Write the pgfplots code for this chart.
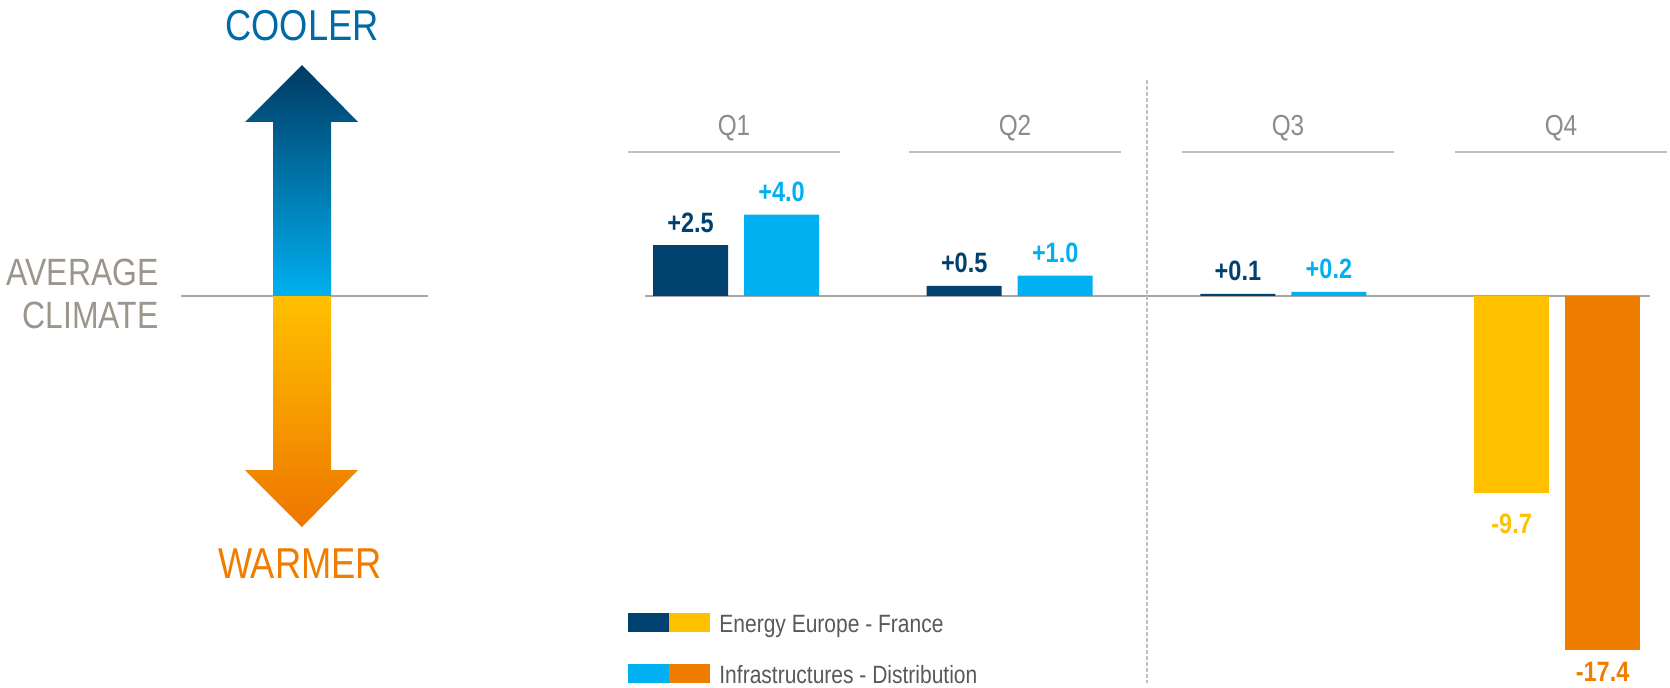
\documentclass[border=0pt]{standalone}
\usepackage{fontspec}
\setmainfont{Liberation Sans}[FakeStretch=0.84]
\usepackage{pgfplots}
\pgfplotsset{compat=1.18}

\definecolor{cNavy}{HTML}{004170}
\definecolor{cSky}{HTML}{00B0F0}
\definecolor{cGold}{HTML}{FFC000}
\definecolor{cTang}{HTML}{F07D00}
\definecolor{cQgrey}{HTML}{8C8C8C}
\definecolor{cRule}{HTML}{BFBFBF}
\definecolor{cZero}{HTML}{A6A6A6}
\definecolor{cWarmGrey}{HTML}{9B958C}
\definecolor{cCool}{HTML}{0069A6}
\definecolor{cLeg}{HTML}{595959}
\definecolor{cArrTop}{HTML}{003A63}
\definecolor{cArrBot}{HTML}{EE7600}

\newcommand\fs[1]{\fontsize{#1}{#1}\selectfont}

\begin{document}
\begin{tikzpicture}
\useasboundingbox (0,0) rectangle (835pt,343.5pt);

% bars: 1 unit of x = one quarter, 1 unit of y = one index point
\begin{axis}[
  at={(0,0)}, anchor=south west, scale only axis,
  width=835pt, height=343.5pt,
  xmin=-2.6891, xmax=3.4125, ymin=-19.214, ymax=14.545,
  hide axis, clip=false,
  ybar, bar width=37.5pt,
  nodes near coords, point meta=explicit symbolic,
  every node near coord/.append style={font=\bfseries\fs{14}, anchor=base, inner sep=0pt},
]
\draw[cZero, line width=0.6pt] (axis cs:-0.3325,0) -- (axis cs:3.339,0);

% Energy Europe - France
\addplot[fill=cNavy, draw=none, bar shift=-22.75pt,
  every node near coord/.append style={text=cNavy, yshift=6.5pt}]
  coordinates {(0,2.5) [+2.5] (1,0.5) [+0.5] (2,0.1) [+0.1]};
\addplot[fill=cGold, draw=none, bar shift=-22.75pt,
  every node near coord/.append style={text=cGold, yshift=-20pt}]
  coordinates {(3,-9.7) [-9.7]};

% Infrastructures - Distribution
\addplot[fill=cSky, draw=none, bar shift=22.75pt,
  every node near coord/.append style={text=cSky, yshift=6.5pt}]
  coordinates {(0,4.0) [+4.0] (1,1.0) [+1.0] (2,0.2) [+0.2]};
\addplot[fill=cTang, draw=none, bar shift=22.75pt,
  every node near coord/.append style={text=cTang, yshift=-15.5pt}]
  coordinates {(3,-17.4) [-17.4]};
\end{axis}

% decoration, in pixel units of the 1670x687 layout (y downward)
\begin{scope}[x=0.5pt, y=-0.5pt, shift={(0pt,343.5pt)}, every node/.style={inner sep=0pt}]
  % quarter headers
  \foreach \c/\q in {734/Q1,1015/Q2,1288/Q3,1561/Q4} {
    \node[anchor=base, text=cQgrey, font=\fs{14.5}] at (\c,135) {\q};
    \draw[cRule, line width=0.75pt] (\c-106,152) -- (\c+106,152);
  }
  % separator between H1 and H2
  \draw[cRule, line width=1pt, dash pattern=on 2pt off 1pt] (1147,80) -- (1147,683);

  % climate arrow
  \draw[cZero, line width=0.6pt] (181,296) -- (428,296);
  \shade[top color=cArrTop, bottom color=cSky]
    (302,65) -- (358,122) -- (331,122) -- (331,296) -- (273,296) -- (273,122) -- (245,122) -- cycle;
  \shade[top color=cGold, bottom color=cArrBot]
    (273,296) -- (331,296) -- (331,470) -- (358,470) -- (302,527) -- (245,470) -- (273,470) -- cycle;
  \node[anchor=base, text=cCool, font=\fs{21.6}] at (302,41) {COOLER};
  \node[anchor=base, text=cTang, font=\fs{21.6}] at (300,578) {WARMER};
  \node[anchor=base east, text=cWarmGrey, font=\fs{19}] at (159,285) {AVERAGE};
  \node[anchor=base east, text=cWarmGrey, font=\fs{19}] at (159,328) {CLIMATE};

  % legend
  \fill[cNavy] (628,613) rectangle (669,632);
  \fill[cGold] (669,613) rectangle (710,632);
  \fill[cSky]  (628,664) rectangle (669,683);
  \fill[cTang] (669,664) rectangle (710,683);
  \node[anchor=base west, text=cLeg, font=\fs{12.5}] at (719,632) {Energy Europe - France};
  \node[anchor=base west, text=cLeg, font=\fs{12.5}] at (719,683) {Infrastructures - Distribution};
\end{scope}
\end{tikzpicture}
\end{document}
